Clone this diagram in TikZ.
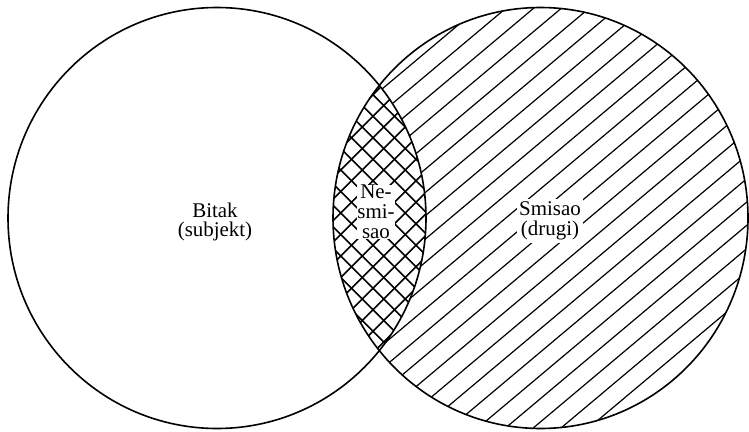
\documentclass[tikz,border=0pt]{standalone}
\usepackage{fontspec}
\setmainfont{Liberation Serif}
\begin{document}
\begin{tikzpicture}[x=1bp,y=1bp,
  outline/.style={line width=1.6bp},
  hatchline/.style={line width=1.2bp},
  crossline/.style={line width=1.5bp},
  lbl/.style={font=\fontsize{21}{20}\selectfont, align=center, inner sep=1.5bp}]
\useasboundingbox (0,0) rectangle (749,431);
\coordinate (L) at (217,213);
\coordinate (R) at (540.5,213);
% right circle single hatching
\begin{scope}
  \clip (R) ellipse [x radius=207.5, y radius=210.5];
  \foreach \k in {-22,...,22} {
    \draw[hatchline] (300,{32+23.3*\k+0.84*(300-540)}) -- (760,{32+23.3*\k+0.84*(760-540)});
  }
\end{scope}
% lens: clear and cross-hatch
\begin{scope}
  \clip (L) ellipse [x radius=209, y radius=210.5];
  \fill[white] (R) ellipse [x radius=207.5, y radius=210.5];
  \clip (R) ellipse [x radius=207.5, y radius=210.5];
  \foreach \k in {-12,...,12} {
    \draw[crossline] ({378.75+21.5*\k-160},53) -- ({378.75+21.5*\k+160},373);
    \draw[crossline] ({378.75+21.5*\k+160+10},53) -- ({378.75+21.5*\k-160+10},373);
  }
\end{scope}
% outlines
\draw[outline] (L) ellipse [x radius=209, y radius=210.5];
\draw[outline] (R) ellipse [x radius=207.5, y radius=210.5];
% labels
\node[lbl] (bitak) at (215,209) {Bitak\\(subjekt)};
\node[lbl, fill=white, inner sep=2.5bp] (smisao) at (550,210) {Smisao\\(drugi)};
\node[lbl, fill=white, inner sep=0.5bp] (nesmisao) at (376,219) {Ne-\\smi-\\sao};
\end{tikzpicture}
\end{document}
